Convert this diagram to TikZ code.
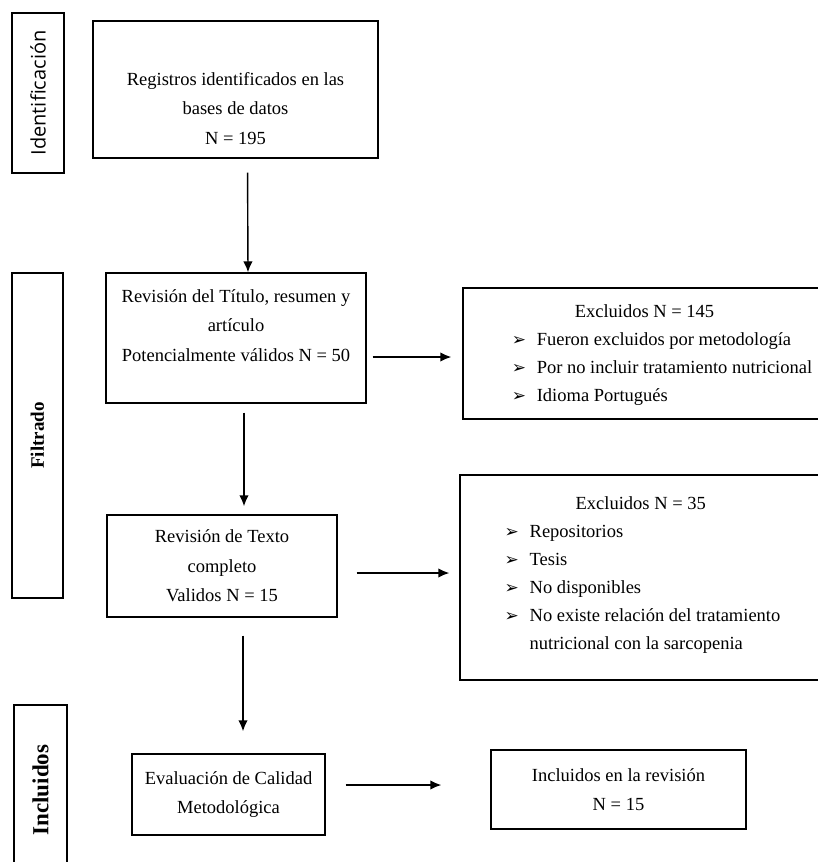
\documentclass[tikz,border=0pt]{standalone}
\usepackage{fontspec}
\setmainfont{Liberation Serif}
\newfontfamily\etiqfont{Open Sans}
\newfontfamily\vinetafont{DejaVu Sans}
\usetikzlibrary{arrows.meta}
\newcommand{\vineta}{\makebox[25pt][l]{\vinetafont\fontsize{17}{18}\selectfont ➢}}

\begin{document}
\begin{tikzpicture}[x=1pt, y=-1pt,
  caja/.style = {draw, line width=1.4pt, inner sep=0pt, align=center, font=\fontsize{18.5}{29.5}\selectfont},
  lista/.style = {caja, align=left, font=\fontsize{18.5}{28}\selectfont},
  fase/.style = {draw, line width=1.4pt, inner sep=0pt, rotate=90},
  flecha/.style = {-{Latex[length=11pt,width=9.5pt]}, line width=1.4pt}]
\useasboundingbox (0,0) rectangle (817,862);

\node[fase, minimum width=160pt, minimum height=52pt, font=\etiqfont\fontsize{20}{24}\selectfont] (ident) at (38,93) {Identificación};
\node[fase, minimum width=325pt, minimum height=51pt, font=\bfseries\fontsize{19}{23}\selectfont] (filt) at (37.5,435.5) {Filtrado};
\node[fase, minimum width=170pt, minimum height=53pt, font=\bfseries\fontsize{23}{27}\selectfont] (incl) at (40.5,790) {Incluidos};

\node[caja, minimum width=285pt, text height=123pt, text depth=14pt] (reg) at (235.5,89.5) {Registros identificados en las\\ bases de datos\\ N = 195};
\node[caja, minimum width=260pt, text height=88pt, text depth=42pt] (rev1) at (236,338) {Revisión del Título, resumen y\\ artículo\\ Potencialmente válidos N = 50};
\node[caja, minimum width=230pt, minimum height=102pt] (rev2) at (222,566) {Revisión de Texto\\ completo\\ Validos N = 15};
\node[caja, minimum width=193pt, minimum height=81pt] (eval) at (228.5,794.5) {Evaluación de Calidad\\ Metodológica};

\node[lista, minimum width=398pt, text height=113pt, text depth=18pt] (excl1) at (662,353.5) {\hspace*{63pt}Excluidos N = 145\\
  \vineta Fueron excluidos por metodología\\
  \vineta Por no incluir tratamiento nutricional\\
  \vineta Idioma Portugués};
\node[lista, minimum width=365pt, text height=174pt, text depth=31pt] (excl2) at (642.5,577.5) {\hspace*{71pt}Excluidos N = 35\\
  \vineta Repositorios\\
  \vineta Tesis\\
  \vineta No disponibles\\
  \vineta No existe relación del tratamiento\\
  \hspace*{25pt}nutricional con la sarcopenia};
\node[caja, minimum width=255pt, minimum height=79pt] (incl5) at (618.5,789.5) {Incluidos en la revisión\\ N = 15};

\draw[flecha, shorten <=14pt] ([xshift=12pt]reg.south) -- ([xshift=12pt]rev1.north);
\draw[flecha, shorten <=9pt, shorten >=8pt] ([xshift=8pt]rev1.south) -- ([xshift=22pt]rev2.north);
\draw[flecha, shorten <=18pt, shorten >=22pt] ([xshift=21pt]rev2.south) -- ([xshift=14.5pt]eval.north);
\draw[flecha, shorten <=6pt, shorten >=11pt] ([yshift=-19pt]rev1.east) -- ([yshift=-3.5pt]excl1.west);
\draw[flecha, shorten <=19pt, shorten >=10pt] ([yshift=-7pt]rev2.east) -- ([yshift=4.5pt]excl2.west);
\draw[flecha, shorten <=20pt, shorten >=49pt] ([yshift=9.5pt]eval.east) -- ([yshift=4.5pt]incl5.west);
\end{tikzpicture}
\end{document}
